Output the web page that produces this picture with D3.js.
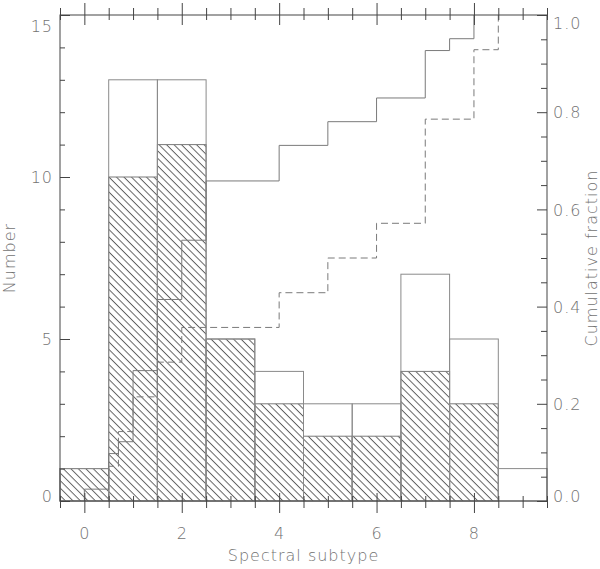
<!DOCTYPE html>
<html>
<head>
<meta charset="utf-8">
<script src="https://cdn.jsdelivr.net/npm/d3@7"></script>
<style>
  body { margin: 0; background: #fff; }
  svg text { font-family: "DejaVu Sans", sans-serif; font-weight: 200; fill: #727272; }
</style>
</head>
<body>
<div id="chart"></div>
<script>
// histogram bins (spectral subtype) and counts
var subtypes = [0, 1, 2, 3, 4, 5, 6, 7, 8, 9];
var totalCounts = [1, 13, 13, 5, 4, 3, 3, 7, 5, 1];
var hatchedCounts = [1, 10, 11, 5, 3, 2, 2, 4, 3, 0];

// cumulative distributions (step positions and running numbers)
var cumHatchedX = [0, 0.5, 0.7, 1, 1.5, 2, 2.5, 4, 5, 6, 7, 7.5, 8];
var cumHatchedN = [1, 4, 5, 11, 17, 22, 27, 30, 32, 34, 38, 39, 41];
var cumOpenX = [0.5, 0.7, 1, 1.5, 2, 4, 5, 6, 7, 8, 8.5];
var cumOpenN = [1, 2, 3, 4, 5, 6, 7, 8, 11, 13, 14];

// tick labels
var xTicks = [0, 2, 4, 6, 8];
var yTicks = [0, 5, 10, 15];
var fracTicks = [0, 0.2, 0.4, 0.6, 0.8, 1.0];

var W = 600, H = 569;
var margin = {top: 15, right: 53, bottom: 68, left: 60},
    width = W - margin.left - margin.right,
    height = H - margin.top - margin.bottom;

var x = d3.scaleLinear().domain([-0.5, 9.5]).range([0, width]);
var y = d3.scaleLinear().domain([0, 15]).range([height, 0]);
var yf = d3.scaleLinear().domain([0, 1]).range([height, 0]);

var svg = d3.select('#chart').append('svg')
    .attr('width', W).attr('height', H);

// hatch pattern
var defs = svg.append('defs');
defs.append('pattern')
    .attr('id', 'hatch')
    .attr('patternUnits', 'userSpaceOnUse')
    .attr('width', 5.3).attr('height', 5.3)
    .attr('patternTransform', 'rotate(45)')
  .append('line')
    .attr('x1', 0).attr('y1', 0.5).attr('x2', 5.3).attr('y2', 0.5)
    .attr('stroke', '#555').attr('stroke-width', 0.9);

var g = svg.append('g')
    .attr('transform', 'translate(' + margin.left + ',' + margin.top + ')');

// hatched histogram
g.selectAll('.hbar')
    .data(subtypes.filter(function(d, i) { return hatchedCounts[i] > 0; }))
  .enter().append('rect')
    .attr('class', 'hbar')
    .attr('x', function(d) { return x(d - 0.5); })
    .attr('width', function(d) { return x(d + 0.5) - x(d - 0.5); })
    .attr('y', function(d) { return y(hatchedCounts[d]); })
    .attr('height', function(d) { return y(0) - y(hatchedCounts[d]); })
    .attr('fill', 'url(#hatch)')
    .attr('stroke', '#7a7a7a')
    .attr('stroke-width', 1);

// full sample histogram (open)
g.selectAll('.tbar')
    .data(subtypes)
  .enter().append('rect')
    .attr('class', 'tbar')
    .attr('x', function(d) { return x(d - 0.5); })
    .attr('width', function(d) { return x(d + 0.5) - x(d - 0.5); })
    .attr('y', function(d) { return y(totalCounts[d]); })
    .attr('height', function(d) { return y(0) - y(totalCounts[d]); })
    .attr('fill', 'none')
    .attr('stroke', '#8a8a8a')
    .attr('stroke-width', 1);

// cumulative step lines
function cumPoints(xs, ns) {
  var tot = ns[ns.length - 1];
  var pts = [[xs[0], 0]];
  xs.forEach(function(v, i) { pts.push([v, ns[i] / tot]); });
  return pts;
}
var stepLine = d3.line()
    .x(function(d) { return x(d[0]); })
    .y(function(d) { return yf(d[1]); })
    .curve(d3.curveStepAfter);

g.append('path')
    .datum(cumPoints(cumHatchedX, cumHatchedN))
    .attr('fill', 'none')
    .attr('stroke', '#7a7a7a')
    .attr('stroke-width', 1)
    .attr('d', stepLine);

g.append('path')
    .datum(cumPoints(cumOpenX, cumOpenN))
    .attr('fill', 'none')
    .attr('stroke', '#7a7a7a')
    .attr('stroke-width', 1)
    .attr('stroke-dasharray', '7,4')
    .attr('d', stepLine);

// minor tick values
var xMinor = d3.range(-0.5, 9.51, 0.5).filter(function(v) { return xTicks.indexOf(v) < 0; });
var yMinor = d3.range(0, 15.01, 1).filter(function(v) { return yTicks.indexOf(v) < 0; });
var fMinor = d3.range(0, 21).map(function(i) { return i / 20; })
    .filter(function(v) { return Math.round(v * 20) % 4 !== 0; });

function styleAxis(sel) {
  sel.select('.domain').remove();
  sel.selectAll('line').attr('stroke', '#444');
  sel.selectAll('text').attr('fill', '#727272')
    .style('font-size', '16px').style('letter-spacing', '1px');
}

// bottom axis
var xb = g.append('g').attr('transform', 'translate(0,' + height + ')')
    .call(d3.axisBottom(x).tickValues(xTicks).tickSize(12).tickPadding(15)
      .tickFormat(d3.format('d')));
xb.selectAll('.tick line').attr('y1', -8);
styleAxis(xb);
var xbm = g.append('g').attr('transform', 'translate(0,' + height + ')')
    .call(d3.axisBottom(x).tickValues(xMinor).tickSize(7).tickFormat(''));
xbm.selectAll('.tick line').attr('y1', -5);
styleAxis(xbm);

// top axis
var xt = g.append('g')
    .call(d3.axisTop(x).tickValues(xTicks).tickSize(12).tickFormat(''));
xt.selectAll('.tick line').attr('y1', 10);
styleAxis(xt);
var xtm = g.append('g')
    .call(d3.axisTop(x).tickValues(xMinor).tickSize(7).tickFormat(''));
xtm.selectAll('.tick line').attr('y1', 5);
styleAxis(xtm);

// left axis
var yl = g.append('g')
    .call(d3.axisLeft(y).tickValues(yTicks).tickSize(-10).tickPadding(7));
styleAxis(yl);
yl.selectAll('text').attr('dy', function(d) {
  return d === 15 ? '1.05em' : d === 0 ? '0.05em' : '0.35em';
});
var ylm = g.append('g')
    .call(d3.axisLeft(y).tickValues(yMinor).tickSize(-5).tickFormat(''));
styleAxis(ylm);

// right axis
var yr = g.append('g').attr('transform', 'translate(' + width + ',0)')
    .call(d3.axisRight(yf).tickValues(fracTicks).tickSize(-10).tickPadding(6)
      .tickFormat(d3.format('.1f')));
styleAxis(yr);
yr.selectAll('text').attr('dy', function(d) {
  return d === 1 ? '0.85em' : d === 0 ? '0.05em' : '0.35em';
});
var yrm = g.append('g').attr('transform', 'translate(' + width + ',0)')
    .call(d3.axisRight(yf).tickValues(fMinor).tickSize(-6).tickFormat(''));
styleAxis(yrm);

// frame
g.append('rect')
    .attr('width', width).attr('height', height)
    .attr('fill', 'none').attr('stroke', '#444').attr('stroke-width', 1);

// axis titles
svg.append('text')
    .attr('x', margin.left + width / 2).attr('y', 561)
    .attr('text-anchor', 'middle')
    .style('font-size', '16px').style('letter-spacing', '1px')
    .text('Spectral subtype');

svg.append('text')
    .attr('transform', 'translate(15,' + (margin.top + height / 2) + ') rotate(-90)')
    .attr('text-anchor', 'middle')
    .style('font-size', '16px').style('letter-spacing', '1px')
    .text('Number');

svg.append('text')
    .attr('transform', 'translate(597,' + (margin.top + height / 2) + ') rotate(-90)')
    .attr('text-anchor', 'middle')
    .style('font-size', '16px').style('letter-spacing', '1px')
    .text('Cumulative fraction');
</script>
</body>
</html>
